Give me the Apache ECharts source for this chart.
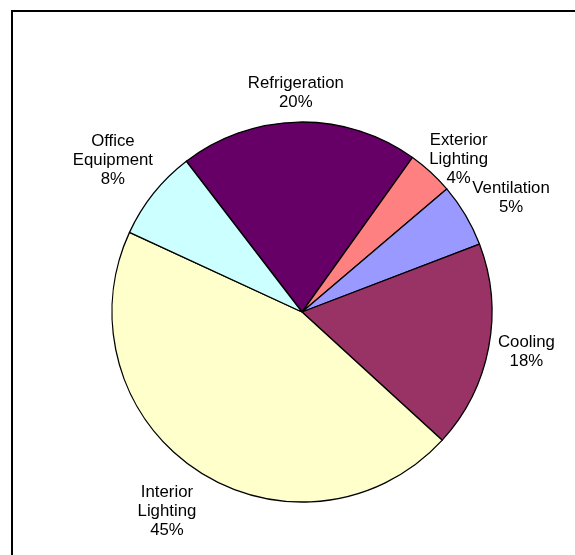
<!DOCTYPE html>
<html>
<head>
<meta charset="utf-8">
<script src="https://cdn.jsdelivr.net/npm/echarts@6/dist/echarts.min.js"></script>
<style>html,body{margin:0;padding:0;background:#fff;}#c{width:575px;height:555px;}</style>
</head>
<body>
<div id="c"></div>
<script>
var categories = ["Refrigeration", "Exterior Lighting", "Ventilation", "Cooling", "Interior Lighting", "Office Equipment"];
var values = [20.3, 3.9, 5.4, 17.6, 45.1, 7.7];
var colors = ["#660066", "#FF8080", "#9999FF", "#993366", "#FFFFCC", "#CCFFFF"];

var CX = 302, CY = 312, R = 190, START = 127.5, GAP = 12;
var total = values.reduce(function (a, b) { return a + b; }, 0);
var mids = [];
(function () {
  var a = START;
  for (var i = 0; i < values.length; i++) {
    var span = values[i] / total * 360;
    mids.push(a - span / 2);
    a -= span;
  }
})();
// small per-label nudges (Excel-style best-fit placement)
var nudge = [[-2, 2], [0, 17], [2, -1], [-2, -1], [-7, 7], [0, -8]];

var chart = echarts.init(document.getElementById('c'), null, { renderer: 'canvas' });
chart.setOption({
  animation: false,
  backgroundColor: '#ffffff',
  graphic: [{
    type: 'rect',
    shape: { x: 12, y: 11, width: 700, height: 700 },
    style: { fill: 'none', stroke: '#000', lineWidth: 2 },
    silent: true
  }],
  series: [{
    type: 'pie',
    center: [CX, CY],
    radius: R,
    startAngle: START,
    clockwise: true,
    avoidLabelOverlap: false,
    itemStyle: { borderColor: '#000', borderWidth: 1.3 },
    label: {
      show: true,
      position: 'outside',
      color: '#000',
      fontFamily: 'Liberation Sans, Arial, sans-serif',
      fontSize: 16.8,
      lineHeight: 19,
      align: 'center',
      formatter: function (p) {
        return p.name.replace(' ', '\n') + '\n' + Math.round(p.percent) + '%';
      }
    },
    labelLine: { show: false },
    labelLayout: function (params) {
      var i = params.dataIndex;
      var ang = mids[i] * Math.PI / 180;
      var dx = Math.cos(ang), dy = -Math.sin(ang);
      var w = params.labelRect.width / 2, h = params.labelRect.height / 2;
      return {
        x: CX + dx * (R + GAP) + dx * w + nudge[i][0],
        y: CY + dy * (R + GAP) + dy * h + nudge[i][1],
        align: 'center',
        verticalAlign: 'middle'
      };
    },
    data: categories.map(function (c, i) {
      return { name: c, value: values[i], itemStyle: { color: colors[i] } };
    })
  }]
});
</script>
</body>
</html>
